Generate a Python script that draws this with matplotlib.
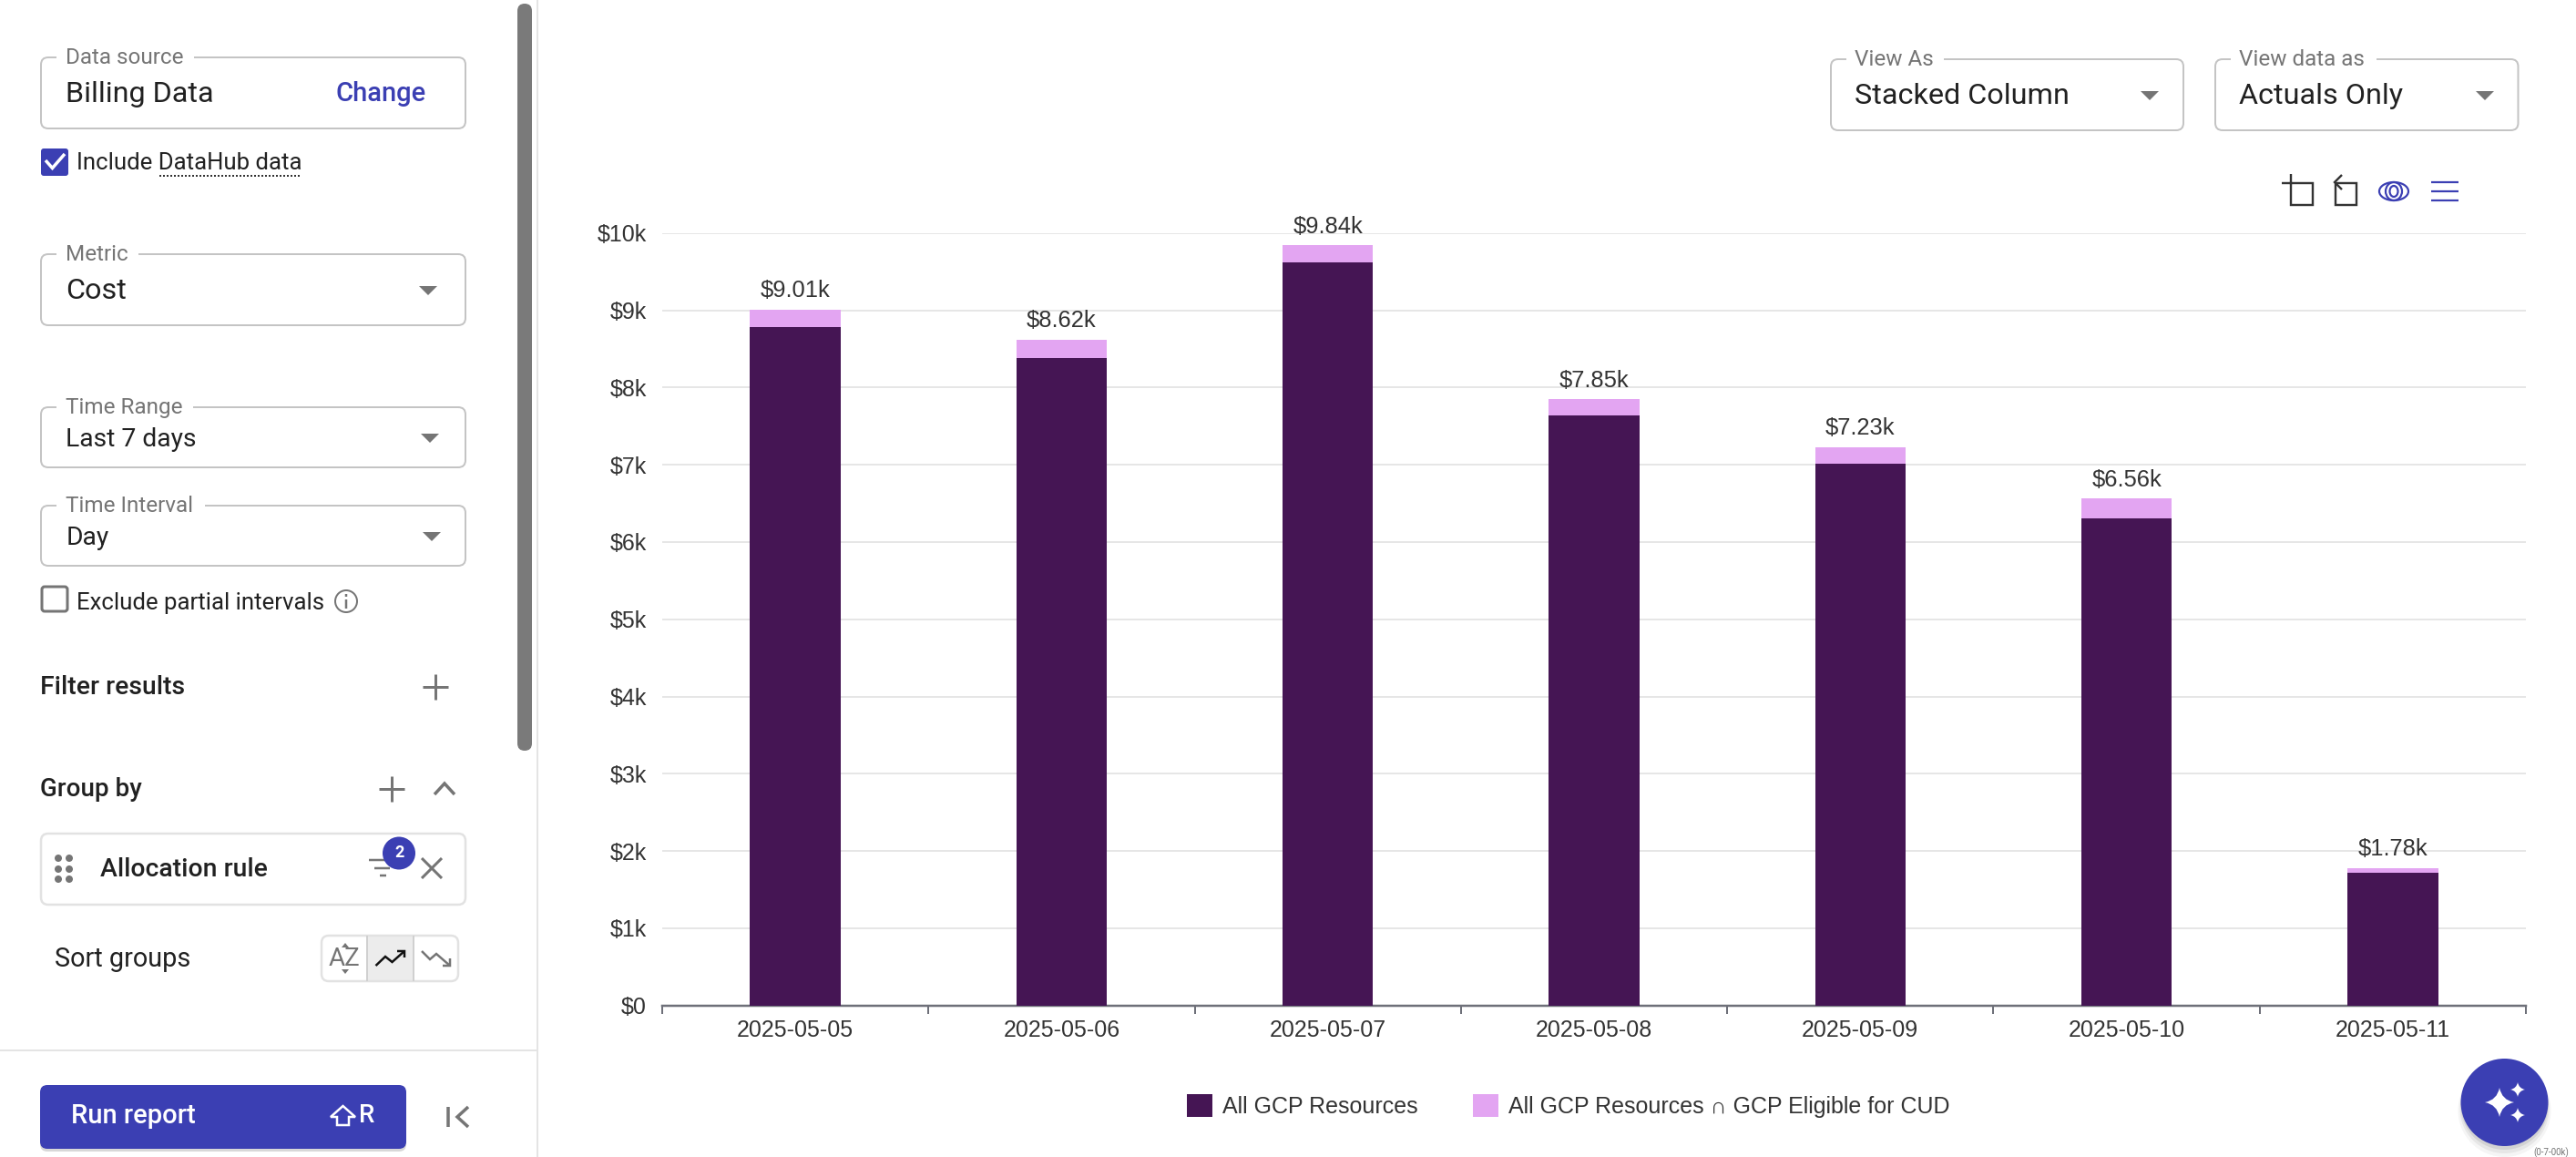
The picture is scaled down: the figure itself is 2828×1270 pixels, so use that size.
"""
Billing report screen: stacked daily cost columns plus the settings panel around them.
"""
import numpy as np
import matplotlib
matplotlib.use("Agg")
import matplotlib.pyplot as plt
from matplotlib.patches import Circle, Ellipse, FancyBboxPatch, PathPatch, Polygon, Rectangle
from matplotlib.path import Path

W, H = 2828, 1270
DPI = 100

dates = ["2025-05-05", "2025-05-06", "2025-05-07", "2025-05-08", "2025-05-09", "2025-05-10", "2025-05-11"]
all_gcp = [8780, 8385, 9615, 7640, 7010, 6310, 1715]
eligible_cud = [230, 235, 225, 210, 220, 250, 65]
total_labels = ["$9.01k", "$8.62k", "$9.84k", "$7.85k", "$7.23k", "$6.56k", "$1.78k"]
y_ticks = [0, 1000, 2000, 3000, 4000, 5000, 6000, 7000, 8000, 9000, 10000]
y_tick_labels = ["$0", "$1k", "$2k", "$3k", "$4k", "$5k", "$6k", "$7k", "$8k", "$9k", "$10k"]
series_names = ["All GCP Resources", "All GCP Resources \u2229 GCP Eligible for CUD"]

DARK = "#451554"
LIGHT = "#E3A5F2"
BLUE = "#3B3FB3"
GREY = "#757575"
BORDER = "#C4C4C4"
INK = "#212121"
UI_FONT = ["Roboto", "DejaVu Sans"]
CHART_FONT = ["Liberation Sans", "DejaVu Sans"]

px = 72 / DPI  # one image pixel in points

fig = plt.figure(figsize=(W / DPI, H / DPI), dpi=DPI, facecolor="white")

# pixel-space layer for the surrounding app chrome
ui = fig.add_axes([0, 0, 1, 1])
ui.set_xlim(0, W)
ui.set_ylim(H, 0)
ui.axis("off")


def label(x, y, s, size=20, color=INK, weight="normal", ha="left", font=UI_FONT):
    ui.text(x, y, s, fontsize=size, color=color, fontweight=weight, ha=ha, va="center", family=font)


def line(xs, ys, color=GREY, lw=2.0):
    ui.plot(xs, ys, color=color, lw=lw * px, solid_capstyle="butt", solid_joinstyle="miter")


def box(x0, y0, x1, y1, edge=BORDER, face="white", lw=2.0, r=8, z=1):
    ui.add_patch(FancyBboxPatch((x0, y0), x1 - x0, y1 - y0, boxstyle=f"round,pad=0,rounding_size={r}",
                                fc=face, ec=edge, lw=lw * px, zorder=z))


def caret(cx, cy, w=20, h=10):
    ui.add_patch(Polygon([(cx - w / 2, cy - h / 2), (cx + w / 2, cy - h / 2), (cx, cy + h / 2)], fc=GREY, ec="none", zorder=3))


def field(x0, y0, x1, y1, title, gap_end, value, value_size, caret_x=None, title_x=None):
    box(x0, y0, x1, y1)
    tx = x0 + 27.5 if title_x is None else title_x
    ui.add_patch(Rectangle((x0 + 17, y0 - 3), gap_end - x0 - 17, 6, fc="white", ec="none", zorder=2))
    label(tx, y0 + 0.5, title, size=17.5, color=GREY)
    cy = (y0 + y1) / 2
    label(tx, cy + 2, value, size=value_size)
    if caret_x is not None:
        caret(caret_x, cy + 1)


def sparkle(cx, cy, r):
    k = 0.16 * r
    verts = [(cx, cy - r), (cx + k, cy - k), (cx + r, cy), (cx + k, cy + k), (cx, cy + r),
             (cx - k, cy + k), (cx - r, cy), (cx - k, cy - k), (cx, cy - r)]
    codes = [Path.MOVETO] + [Path.CURVE3] * 8
    ui.add_patch(PathPatch(Path(verts, codes), fc="white", ec="none", zorder=6))


# panel dividers and scrollbar
line([590, 590], [0, H], color="#E4E4E4", lw=2)
line([0, 590], [1153, 1153], color="#E4E4E4", lw=2)
box(568, 4, 584, 824, edge="none", face="#7A7A7A", r=8)

# left panel fields
field(45, 63, 511, 141, "Data source", 213, "Billing Data", 23.3)
label(368, 103, "Change", size=21, color=BLUE, weight="medium")

box(45, 163, 75, 193, edge="none", face=BLUE, r=3)
line([50, 57.5, 71], [176, 184.5, 169], color="white", lw=3.5)
label(84, 179.5, "Include DataHub data", size=18.5)
ui.plot([174.5, 331], [192.6, 192.6], color="#333333", lw=2 * px, ls=(0, (1, 1)))

field(45, 279, 511, 357, "Metric", 152, "Cost", 23.3, caret_x=470)
field(45, 447, 511, 513, "Time Range", 212, "Last 7 days", 20.3, caret_x=472)
field(45, 555, 511, 621, "Time Interval", 225, "Day", 20.3, caret_x=474)

box(46, 644, 74, 671, edge=GREY, lw=3, r=3)
label(84, 662, "Exclude partial intervals", size=18.5)
ui.add_patch(Circle((380, 660), 12, fc="none", ec=GREY, lw=2 * px))
line([380, 380], [658, 668], lw=2.5)
line([380, 380], [652, 655], lw=2.5)

label(44.5, 754, "Filter results", size=20.4, weight="medium")
line([464, 492], [754, 754], lw=3)
line([478, 478], [740, 768], lw=3)

label(44.5, 866, "Group by", size=20, weight="medium")
line([416, 444], [866, 866], lw=3)
line([430, 430], [852, 880], lw=3)
line([477, 488, 499], [872, 860, 872], lw=3.5)

# allocation rule row
box(45, 915, 511, 993, edge="#E2E2E2", lw=2.5)
for dot_y in [942, 954, 965]:
    for dot_x in [64, 76]:
        ui.add_patch(Circle((dot_x, dot_y), 4, fc=GREY, ec="none", zorder=3))
label(110, 954, "Allocation rule", size=20.4, weight="medium")
line([405, 428], [944, 944], lw=2.5)
line([411, 428], [952.6, 952.6], lw=2.5)
line([417, 424], [961, 961], lw=2.5)
ui.add_patch(Circle((438, 936.5), 18, fc=BLUE, ec="none", zorder=4))
ui.text(438, 936, "2", fontsize=13, color="white", fontweight="bold", ha="center", va="center", family=UI_FONT, zorder=5)
line([463, 485], [942, 964], lw=3)
line([463, 485], [964, 942], lw=3)

# sort toggle
label(60, 1053, "Sort groups", size=20.8)
ui.add_patch(Rectangle((403, 1027), 50.5, 50, fc="#ECECEC", ec="none", zorder=1))
box(353, 1027, 503, 1077, edge="#E2E2E2", face="none", lw=2.5, z=2)
line([403, 403], [1027, 1077], color="#D0D0D0", lw=2)
line([453.5, 453.5], [1027, 1077], color="#D0D0D0", lw=2)
label(378, 1052, "AZ", size=20, color=GREY, ha="center")
ui.add_patch(Polygon([(375, 1040), (383, 1040), (379, 1035)], fc=GREY, ec="none"))
ui.add_patch(Polygon([(375, 1064), (383, 1064), (379, 1069)], fc=GREY, ec="none"))
line([412.5, 423, 430.5, 444], [1060, 1050, 1056, 1044], color="#111111", lw=2.5)
line([436, 444, 444], [1044, 1044, 1051], color="#111111", lw=2.5)
line([463, 472, 479, 494], [1044, 1053, 1047, 1060], lw=2.5)
line([494, 494, 486], [1052, 1060, 1060], lw=2.5)

# run button
box(44, 1194, 446, 1264, edge="none", face="#D8D8D8", r=8, z=1)
box(44, 1191, 446, 1261, edge="none", face=BLUE, r=8, z=2)
ui.text(78, 1225, "Run report", fontsize=21, color="white", fontweight="medium", va="center", family=UI_FONT, zorder=3)
ui.add_patch(Polygon([(376.5, 1214), (390, 1226), (383, 1226), (383, 1235), (370, 1235), (370, 1226), (363, 1226)],
                     fc="none", ec="white", lw=2.5 * px, zorder=3))
ui.text(394, 1225, "R", fontsize=20, color="white", fontweight="medium", va="center", family=UI_FONT, zorder=3)
line([492, 492], [1215, 1237], lw=3.5)
line([514, 502, 514], [1215, 1226, 1237], lw=3.5)

# top right selectors
field(2010, 65, 2397, 143, "View As", 2134, "Stacked Column", 23.3, caret_x=2360, title_x=2036)
field(2432, 65, 2764.5, 143, "View data as", 2609, "Actuals Only", 23.3, caret_x=2728, title_x=2458)

# chart toolbar
line([2505, 2539, 2539, 2515, 2515], [201, 201, 225, 225, 191], color="#333333", lw=2.4)
line([2564, 2587, 2587, 2564, 2564], [201, 201, 225, 225, 201], color="#333333", lw=2.4)
line([2571, 2563, 2571], [192, 200, 208], color="#333333", lw=2.4)
for ew, eh in [(32, 20), (18, 20), (9, 12)]:
    ui.add_patch(Ellipse((2628, 210), ew, eh, fc="none", ec=BLUE, lw=2.2 * px))
for my in [200, 210, 220]:
    line([2669, 2699], [my, my], color=BLUE, lw=2.2)

# floating assistant button, soft shadow below it
for grow, shift, alpha in [(3, 9, 0.04), (1, 7, 0.06), (0, 4, 0.08)]:
    ui.add_patch(Circle((2749.5, 1210 + shift), 48 + grow, fc="black", ec="none", alpha=alpha, zorder=4))
ui.add_patch(Circle((2749.5, 1210), 48, fc=BLUE, ec="none", zorder=5))
sparkle(2744, 1210, 16)
sparkle(2764, 1196, 8)
sparkle(2764, 1224, 8)

# text at the screenshot's bottom edge, shrunk so it stays on the canvas
ui.text(2820, 1268, "(0-7-00k)", fontsize=7, color=GREY, ha="right", va="baseline", family=UI_FONT)

# the chart itself
ax = fig.add_axes([727 / W, 1 - 1103.7 / H, (2773 - 727) / W, (1103.7 - 255.7) / H])
ax.patch.set_alpha(0)
x = np.arange(len(dates))
bars_all = ax.bar(x, all_gcp, width=0.34, color=DARK, label=series_names[0], zorder=3)
bars_cud = ax.bar(x, eligible_cud, width=0.34, bottom=all_gcp, color=LIGHT, label=series_names[1], zorder=3)

ax.set_xlim(-0.5, len(dates) - 0.5)
ax.set_ylim(0, 10000)
ax.set_yticks(y_ticks)
ax.set_yticklabels(y_tick_labels, fontsize=18, color="#333333", family=CHART_FONT)
ax.set_xticks(x)
ax.set_xticklabels(dates, fontsize=18, color="#333333", family=CHART_FONT)
ax.set_xticks(np.arange(len(dates) + 1) - 0.5, minor=True)
ax.tick_params(axis="y", length=0, pad=17 * px)
ax.tick_params(axis="x", which="major", length=0, pad=15.5 * px)
ax.tick_params(axis="x", which="minor", length=9 * px, width=2 * px, color="#6E7079")
ax.yaxis.grid(True, color="#E6E6E6", lw=2 * px, zorder=0)
ax.set_axisbelow(True)
for name in ["top", "left", "right"]:
    ax.spines[name].set_visible(False)
ax.spines["bottom"].set_color("#6E7079")
ax.spines["bottom"].set_linewidth(2.5 * px)

for xi, base, extra, text in zip(x, all_gcp, eligible_cud, total_labels):
    ax.annotate(text, (xi, base + extra), xytext=(0, 13.5 * px), textcoords="offset points", ha="center", va="baseline",
                fontsize=18.4, color="#333333", family=CHART_FONT, zorder=5)

ax.legend(handles=[bars_all, bars_cud], loc="center", bbox_to_anchor=((1722 - 727) / 2046, (1103.7 - 1214) / 848),
          ncol=2, frameon=False, prop={"family": CHART_FONT, "size": 18}, labelcolor="#333333",
          handlelength=1.12, handleheight=1.12, handletextpad=0.45, columnspacing=2.4, borderpad=0, borderaxespad=0)

fig.savefig("out.png", dpi=DPI)
